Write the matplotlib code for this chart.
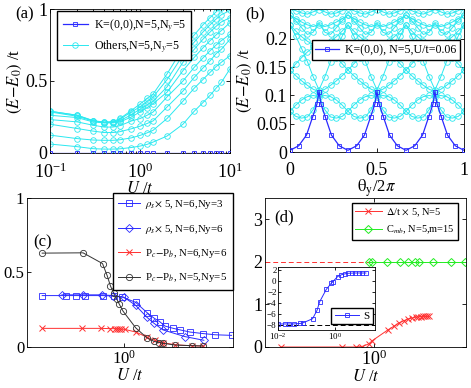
import matplotlib
matplotlib.use("Agg")
import matplotlib.pyplot as plt
import matplotlib.ticker as mticker

plt.rcParams['font.family'] = ['Liberation Serif', 'DejaVu Serif']
plt.rcParams['mathtext.fontset'] = 'stix'
plt.rcParams['xtick.direction'] = 'in'
plt.rcParams['ytick.direction'] = 'in'
plt.rcParams['xtick.top'] = True
plt.rcParams['ytick.right'] = True
plt.rcParams['axes.linewidth'] = 0.6
plt.rcParams['xtick.major.width'] = 0.6
plt.rcParams['ytick.major.width'] = 0.6
plt.rcParams['xtick.major.size'] = 3
plt.rcParams['ytick.major.size'] = 3
plt.rcParams['xtick.minor.size'] = 1.5
plt.rcParams['ytick.minor.size'] = 1.5
plt.rcParams['xtick.major.pad'] = 2
plt.rcParams['ytick.major.pad'] = 2

BLUE = '#2a2aff'
CYAN = '#2ae8f0'
RED = '#ff3030'
GREEN = '#22ee22'

# ---------------- (a) gap vs U ----------------
a_U = [0.1, 0.2, 0.3, 0.4, 0.5, 0.6, 0.8, 1.0, 1.2, 1.4, 2, 3, 4, 5, 6, 7, 8, 10]
a_K0 = [0.0] * 18
a_others = [
    [0.062, 0.044, 0.030, 0.027, 0.027, 0.029, 0.038, 0.048, 0.060, 0.076, 0.118, 0.20, 0.29, 0.35, 0.40, 0.45, 0.49, 0.585],
    [0.124, 0.100, 0.090, 0.088, 0.088, 0.092, 0.105, 0.122, 0.140, 0.158, 0.24, 0.36, 0.45, 0.51, 0.56, 0.60, 0.63, 0.676],
    [0.200, 0.170, 0.152, 0.142, 0.142, 0.148, 0.168, 0.186, 0.205, 0.223, 0.32, 0.43, 0.525, 0.59, 0.64, 0.69, 0.72, 0.79],
    [0.232, 0.216, 0.193, 0.180, 0.180, 0.190, 0.222, 0.239, 0.262, 0.285, 0.39, 0.50, 0.595, 0.66, 0.71, 0.75, 0.78, 0.825],
    [0.262, 0.246, 0.216, 0.209, 0.209, 0.216, 0.250, 0.285, 0.315, 0.343, 0.423, 0.572, 0.664, 0.73, 0.78, 0.82, 0.85, 0.906],
    [0.285, 0.255, 0.222, 0.212, 0.215, 0.225, 0.265, 0.305, 0.335, 0.360, 0.46, 0.63, 0.72, 0.79, 0.84, 0.88, 0.91, 0.94],
    [0.290, 0.262, 0.225, 0.210, 0.212, 0.235, 0.285, 0.320, 0.360, 0.390, 0.51, 0.68, 0.77, 0.84, 0.89, 0.93, 0.96, 0.99],
    [0.290, 0.262, 0.225, 0.215, 0.218, 0.240, 0.295, 0.340, 0.380, 0.410, 0.55, 0.73, 0.82, 0.89, 0.94, 0.98, 1.01, 1.06],
]

# ---------------- (b) spectrum vs flux ----------------
b_theta_K0 = [0, 0.05, 0.095, 0.13, 0.155, 0.167, 0.178, 0.203, 0.238, 0.283,
              0.333, 0.383, 0.428, 0.463, 0.488, 0.5, 0.512, 0.537, 0.572, 0.617,
              0.667, 0.717, 0.762, 0.797, 0.822, 0.833, 0.845, 0.87, 0.905, 0.95, 1.0]
b_K0 = [0.003, 0.011, 0.030, 0.062, 0.085, 0.107, 0.085, 0.062, 0.030, 0.011,
        0.003, 0.011, 0.030, 0.062, 0.085, 0.107, 0.085, 0.062, 0.030, 0.011,
        0.003, 0.011, 0.030, 0.062, 0.085, 0.107, 0.085, 0.062, 0.030, 0.011, 0.003]
b_theta = [k / 30 for k in range(31)]
b_others = [
    [0.072, 0.063, 0.060, 0.062, 0.075, 0.100, 0.075, 0.062, 0.060, 0.063,
     0.072, 0.063, 0.060, 0.062, 0.075, 0.100, 0.075, 0.062, 0.060, 0.063,
     0.072, 0.063, 0.060, 0.062, 0.075, 0.100, 0.075, 0.062, 0.060, 0.063, 0.072],
    [0.072, 0.083, 0.092, 0.098, 0.100, 0.098, 0.100, 0.098, 0.092, 0.083,
     0.072, 0.083, 0.092, 0.098, 0.100, 0.098, 0.100, 0.098, 0.092, 0.083,
     0.072, 0.083, 0.092, 0.098, 0.100, 0.098, 0.100, 0.098, 0.092, 0.083, 0.072],
    [0.145, 0.135, 0.126, 0.118, 0.111, 0.107, 0.111, 0.118, 0.126, 0.135,
     0.145, 0.135, 0.126, 0.118, 0.111, 0.107, 0.111, 0.118, 0.126, 0.135,
     0.145, 0.135, 0.126, 0.118, 0.111, 0.107, 0.111, 0.118, 0.126, 0.135, 0.145],
    [0.145, 0.156, 0.167, 0.177, 0.185, 0.190, 0.185, 0.177, 0.167, 0.156,
     0.145, 0.156, 0.167, 0.177, 0.185, 0.190, 0.185, 0.177, 0.167, 0.156,
     0.145, 0.156, 0.167, 0.177, 0.185, 0.190, 0.185, 0.177, 0.167, 0.156, 0.145],
    [0.225, 0.205, 0.183, 0.160, 0.133, 0.110, 0.133, 0.160, 0.183, 0.205,
     0.225, 0.205, 0.183, 0.160, 0.133, 0.110, 0.133, 0.160, 0.183, 0.205,
     0.225, 0.205, 0.183, 0.160, 0.133, 0.110, 0.133, 0.160, 0.183, 0.205, 0.225],
    [0.225, 0.214, 0.204, 0.196, 0.190, 0.188, 0.190, 0.196, 0.204, 0.214,
     0.225, 0.214, 0.204, 0.196, 0.190, 0.188, 0.190, 0.196, 0.204, 0.214,
     0.225, 0.214, 0.204, 0.196, 0.190, 0.188, 0.190, 0.196, 0.204, 0.214, 0.225],
    [0.242, 0.236, 0.230, 0.225, 0.222, 0.225, 0.222, 0.225, 0.230, 0.236,
     0.242, 0.236, 0.230, 0.225, 0.222, 0.225, 0.222, 0.225, 0.230, 0.236,
     0.242, 0.236, 0.230, 0.225, 0.222, 0.225, 0.222, 0.225, 0.230, 0.236, 0.242],
    [0.243, 0.232, 0.220, 0.208, 0.212, 0.228, 0.212, 0.208, 0.220, 0.232,
     0.243, 0.232, 0.220, 0.208, 0.212, 0.228, 0.212, 0.208, 0.220, 0.232,
     0.243, 0.232, 0.220, 0.208, 0.212, 0.228, 0.212, 0.208, 0.220, 0.232, 0.243],
    [0.255, 0.250, 0.246, 0.244, 0.248, 0.252, 0.248, 0.244, 0.246, 0.250,
     0.255, 0.250, 0.246, 0.244, 0.248, 0.252, 0.248, 0.244, 0.246, 0.250,
     0.255, 0.250, 0.246, 0.244, 0.248, 0.252, 0.248, 0.244, 0.246, 0.250, 0.255],
]

# ---------------- (c) order parameters ----------------
c_U_rho3 = [0.202, 0.325, 0.394, 0.47, 0.66, 0.82, 0.97, 1.26, 1.58, 1.80, 2.02, 2.25, 2.64, 3.0, 3.68, 4.75, 6.0, 8.26]
c_rho3 = [0.345, 0.345, 0.345, 0.345, 0.345, 0.342, 0.335, 0.30, 0.23, 0.195, 0.17, 0.14, 0.125, 0.115, 0.10, 0.09, 0.082, 0.078]
c_U_rho6 = [0.297, 0.448, 0.65, 0.806, 1.0, 1.26, 1.57, 1.80, 2.15, 3.3, 4.8]
c_rho6 = [0.35, 0.35, 0.35, 0.345, 0.335, 0.28, 0.20, 0.16, 0.115, 0.07, 0.045]
c_U_P6 = [0.203, 0.445, 0.646, 0.77, 0.84, 0.877, 0.91, 0.94, 1.02, 1.27, 1.58, 1.84, 2.09, 2.16, 2.75, 3.77, 4.73]
c_P6 = [0.125, 0.125, 0.125, 0.123, 0.123, 0.122, 0.122, 0.12, 0.118, 0.10, 0.065, 0.045, 0.03, 0.028, 0.015, 0.008, 0.006]
c_U_P5 = [0.202, 0.45, 0.659, 0.721, 0.77, 0.82, 0.867, 0.912, 0.986, 1.265, 1.57, 1.80, 2.0, 2.16, 2.72, 3.77, 4.73]
c_P5 = [0.63, 0.632, 0.56, 0.48, 0.41, 0.36, 0.325, 0.29, 0.24, 0.128, 0.062, 0.038, 0.03, 0.025, 0.013, 0.009, 0.007]

# ---------------- (d) gap and Chern number ----------------
d_U_gap = [0.164, 0.54, 0.70, 0.79, 0.90, 0.97, 1.31, 1.48, 1.64, 1.80, 1.95, 2.1, 2.25, 2.38, 2.5, 2.62, 2.72, 2.82, 2.9]
d_gap = [0, 0, 0, 0.01, 0.07, 0.15, 0.40, 0.49, 0.57, 0.62, 0.66, 0.68, 0.70, 0.71, 0.715, 0.72, 0.72, 0.72, 0.72]
d_U_C = [0.91, 0.97, 1.29, 1.67, 1.95, 2.23, 2.39, 3.15, 4.46, 5.9]
d_C = [2, 2, 2, 2, 2, 2, 2, 2, 2, 2]
d_U_S = [0.01, 0.017, 0.024, 0.035, 0.06, 0.074, 0.16, 0.23, 0.28, 0.48, 0.71, 0.81, 1.2, 1.6, 2.2, 2.8, 3.8, 4.8, 6.5, 8.5, 11.5]
d_S = [-7.9, -7.9, -7.9, -7.9, -7.8, -7.7, -6.95, -5.4, -3.9, -1.6, -0.5, -0.2, 0.76, 1.07, 1.26, 1.35, 1.38, 1.4, 1.4, 1.4, 1.4]

LEG = dict(fancybox=False, edgecolor='k', framealpha=1, borderaxespad=0)

fig = plt.figure(figsize=(4.71, 3.88), dpi=100)

# (a)
ax = fig.add_axes([0.1062, 0.6057, 0.3822, 0.3711])
ax.plot(a_U, a_K0, '-s', color=BLUE, ms=3, mfc='none', lw=0.9, mew=0.6,
        label=r'K=(0,0),N=5,N$_y$=5', zorder=3)
for i, ys in enumerate(a_others):
    ax.plot(a_U, ys, '-o', color=CYAN, ms=4, mfc='none', lw=0.7, mew=0.6,
            label=r'Others,N=5,N$_y$=5' if i == 0 else None)
ax.set_xscale('log')
ax.set_xlim(0.1, 10)
ax.set_ylim(0, 1)
ax.set_yticks([0, 0.5, 1])
ax.set_yticklabels(['0', '0.5', '1'])
ax.tick_params(labelsize=13)
ax.tick_params(axis='x', pad=7)
ax.set_xlabel(r'$U$ /$t$', fontsize=12, labelpad=-1)
ax.set_ylabel(r'$(E\!-\!E_0)$ /t', fontsize=12, labelpad=1)
ax.legend(loc='upper left', bbox_to_anchor=(0.04, 0.985), fontsize=8.6,
          handlelength=2.1, handletextpad=0.5, borderpad=0.45, labelspacing=0.35, **LEG)
fig.text(15 / 471, 1 - 14 / 388, '(a)', fontsize=12, va='center')

# (b)
ax = fig.add_axes([0.6157, 0.6082, 0.3694, 0.3686])
for ys in b_others:
    ax.plot(b_theta, ys, '-o', color=CYAN, ms=4, mfc='none', lw=0.7, mew=0.6)
ax.plot(b_theta_K0, b_K0, '-s', color=BLUE, ms=2.5, mfc='none', lw=0.9, mew=0.6,
        label='K=(0,0), N=5,U/t=0.06', zorder=3)
ax.set_xlim(0, 1)
ax.set_ylim(0, 0.253)
ax.set_xticks([0, 0.5, 1])
ax.set_xticklabels(['0', '0.5', '1'])
ax.set_yticks([0, 0.05, 0.1, 0.15, 0.2])
ax.set_yticklabels(['0', '0.05', '0.1', '0.15', '0.2'])
ax.tick_params(labelsize=13)
ax.tick_params(axis='x', pad=7)
ax.set_xlabel(r'$\mathrm{\theta_y}$/2$\pi$', fontsize=12, labelpad=-1)
ax.set_ylabel(r'$(E\!-\!E_0)$ /t', fontsize=12, labelpad=1)
ax.legend(loc='upper left', bbox_to_anchor=(0.125, 0.78), fontsize=8.6,
          handlelength=2.0, handletextpad=0.5, borderpad=0.3, **LEG)
fig.text(245 / 471, 1 - 14 / 388, '(b)', fontsize=12, va='center')

# (c)
ax = fig.add_axes([0.0573, 0.1057, 0.4374, 0.384])
ax.plot(c_U_rho3, c_rho3, '-s', color=BLUE, ms=4, mfc='none', lw=0.7, mew=0.6,
        label=r'$\rho_s$$\times$ 5, N=6,Ny=3')
ax.plot(c_U_rho6, c_rho6, '-D', color=BLUE, ms=4, mfc='none', lw=0.7, mew=0.6,
        label=r'$\rho_s$$\times$ 5, N=6,Ny=6')
ax.plot(c_U_P6, c_P6, '-x', color=RED, ms=4, lw=0.7, mew=0.7,
        label=r'P$_c$$-$P$_b$, N=6,Ny=6')
ax.plot(c_U_P5, c_P5, '-o', color='#333333', ms=4.5, mfc='none', lw=0.7, mew=0.6,
        label=r'P$_c$$-$P$_b$, N=5,Ny=5')
ax.set_xscale('log')
ax.set_xlim(0.15, 8.5)
ax.set_ylim(0, 1)
ax.set_xticks([1])
ax.xaxis.set_minor_locator(mticker.NullLocator())
ax.set_yticks([0, 0.5, 1])
ax.set_yticklabels(['0', '0.5', '1'])
ax.tick_params(labelsize=12)
ax.set_xlabel(r'$U$ /$t$', fontsize=12, labelpad=0)
ax.legend(loc='upper right', bbox_to_anchor=(1.0, 1.035), fontsize=7.8,
          handlelength=2.0, handletextpad=0.5, borderpad=0.5, labelspacing=1.05, **LEG)
ax.text(0.03, 0.70, '(c)', transform=ax.transAxes, fontsize=12, va='center')

# (d)
ax = fig.add_axes([0.5626, 0.1057, 0.4268, 0.384])
ax.axhline(2, color=RED, ls='--', lw=0.7, dashes=(5, 3))
ax.plot(d_U_gap, d_gap, '-x', color=RED, ms=4, lw=0.7, mew=0.7,
        label=r'$\Delta$/t $\times$ 5, N=5')
ax.plot(d_U_C, d_C, '-D', color=GREEN, ms=4, mfc='none', lw=0.7, mew=0.7,
        label=r'C$_{mb}$, N=5,m=15')
ax.set_xscale('log')
ax.set_xlim(0.12, 6.0)
ax.set_ylim(0, 3.5)
ax.set_xticks([1])
ax.xaxis.set_minor_locator(mticker.NullLocator())
ax.set_yticks([0, 1, 2, 3])
ax.tick_params(labelsize=13)
ax.set_xlabel(r'$U$ /$t$', fontsize=12, labelpad=0)
ax.legend(loc='upper right', bbox_to_anchor=(0.96, 0.965), fontsize=7.5,
          handlelength=2.6, handletextpad=0.4, borderpad=0.3, **LEG)
ax.text(0.045, 0.87, '(d)', transform=ax.transAxes, fontsize=12, va='center')

# inset of (d)
axi = fig.add_axes([0.5902, 0.1495, 0.206, 0.1624])
axi.axhline(-8, color='k', ls='--', lw=0.7, dashes=(5, 3))
axi.plot(d_U_S, d_S, '-s', color=BLUE, ms=3, mfc='none', lw=0.7, mew=0.6, label='S')
axi.set_xscale('log')
axi.set_xlim(0.01, 24)
axi.set_ylim(-9, 2.5)
axi.set_xticks([0.01, 1])
axi.xaxis.set_minor_locator(mticker.NullLocator())
axi.set_yticks([-8, -6, -4, -2, 0, 2])
axi.tick_params(labelsize=6.5, length=2, pad=1)
axi.legend(loc='lower right', bbox_to_anchor=(0.98, 0.09), fontsize=8,
           handlelength=2.2, handletextpad=0.4, borderpad=0.3, **LEG)

fig.savefig('out.png', dpi=100)
